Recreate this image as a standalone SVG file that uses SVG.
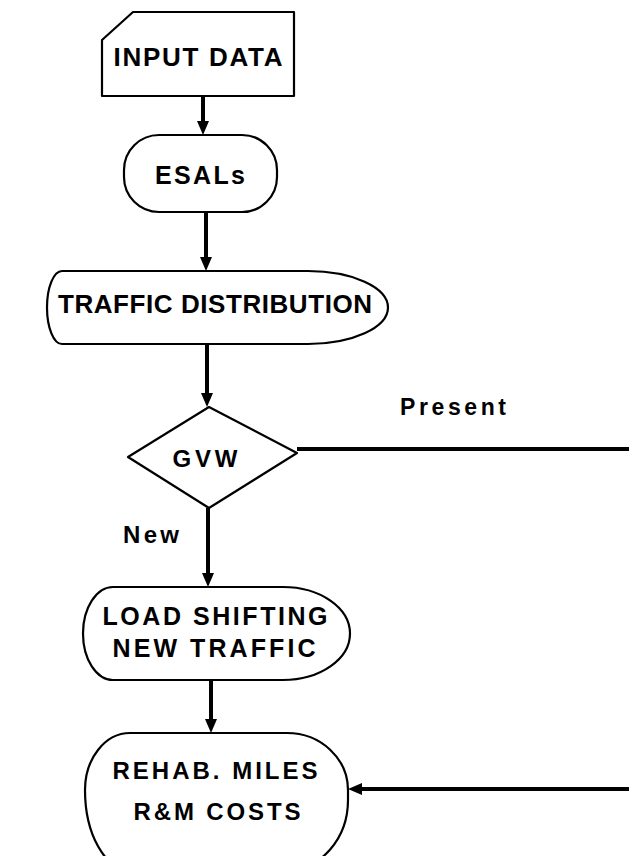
<svg xmlns="http://www.w3.org/2000/svg" width="629" height="856" viewBox="0 0 629 856">
<defs>
<style>
.shape{fill:#fff;stroke:#000;stroke-width:2.2;stroke-linejoin:round}
.lbl{font-family:"Liberation Sans",Arial,sans-serif;font-weight:bold;fill:#000;text-anchor:middle}
.conn{stroke:#000;stroke-width:4;fill:none}
</style>
<marker id="ah" markerUnits="userSpaceOnUse" markerWidth="14" markerHeight="12" refX="6" refY="6" orient="auto">
<path d="M0,0 L14,6 L0,12 z" fill="#000"/>
</marker>
</defs>
<rect width="629" height="856" fill="#fff"/>
<g id="connectors">
<line class="conn" x1="203" y1="97" x2="203" y2="127" marker-end="url(#ah)"/>
<line class="conn" x1="206" y1="212" x2="206" y2="263" marker-end="url(#ah)"/>
<line class="conn" x1="207" y1="344" x2="207" y2="399" marker-end="url(#ah)"/>
<line class="conn" x1="297" y1="449" x2="629" y2="449"/>
<line class="conn" x1="208" y1="508" x2="208" y2="579" marker-end="url(#ah)"/>
<line class="conn" x1="211" y1="680" x2="211" y2="725" marker-end="url(#ah)"/>
<line class="conn" x1="629" y1="789" x2="356" y2="789" marker-end="url(#ah)"/>
<text class="lbl" x="453" y="415" font-size="23" textLength="106" lengthAdjust="spacing">Present</text>
<text class="lbl" x="151" y="543" font-size="24" textLength="56" lengthAdjust="spacing">New</text>
</g>
<g id="input-data">
<polygon class="shape" points="133,12 294,12 294,96 102,96 102,40"/>
<text class="lbl" x="198" y="66" font-size="26" textLength="169" lengthAdjust="spacing">INPUT DATA</text>
</g>
<g id="esals">
<rect class="shape" x="124" y="135" width="153" height="77" rx="35" ry="35"/>
<text class="lbl" x="200" y="184" font-size="25" textLength="90" lengthAdjust="spacing">ESALs</text>
</g>
<g id="traffic-distribution">
<path class="shape" d="M62,271 H308 A80,36.5 0 0 1 308,344 H62 A15,36.5 0 0 1 62,271 Z"/>
<text class="lbl" x="215" y="313" font-size="26" textLength="314" lengthAdjust="spacing">TRAFFIC DISTRIBUTION</text>
</g>
<g id="gvw">
<polygon class="shape" points="128,457 209,407 297,453 209,508"/>
<text class="lbl" x="205" y="467" font-size="24" textLength="65" lengthAdjust="spacing">GVW</text>
</g>
<g id="load-shifting">
<path class="shape" d="M113,587 H283 A67,46.5 0 0 1 283,680 H113 A30,46.5 0 0 1 113,587 Z"/>
<text class="lbl" x="215" y="625" font-size="25" textLength="225" lengthAdjust="spacing">LOAD SHIFTING</text>
<text class="lbl" x="214" y="657" font-size="25" textLength="203" lengthAdjust="spacing">NEW TRAFFIC</text>
</g>
<g id="rehab">
<path class="shape" d="M130,733 H287 A61,57 0 0 1 348,790 V800 A61,70 0 0 1 287,870 H130 A45,80 0 0 1 85,790 A45,57 0 0 1 130,733 Z"/>
<text class="lbl" x="215" y="779" font-size="24" textLength="205" lengthAdjust="spacing">REHAB. MILES</text>
<text class="lbl" x="217" y="820" font-size="24" textLength="167" lengthAdjust="spacing">R&amp;M COSTS</text>
</g>
</svg>
